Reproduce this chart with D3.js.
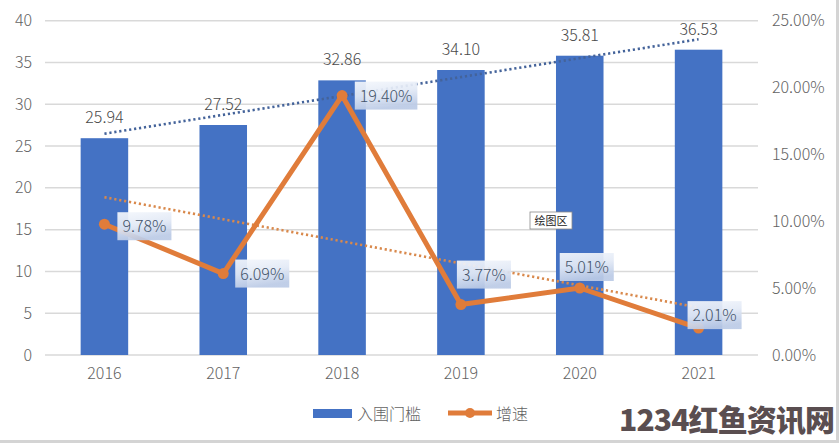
<!DOCTYPE html>
<html><head><meta charset="utf-8">
<script src="https://cdn.jsdelivr.net/npm/d3@7/dist/d3.min.js"></script>
<style>
html,body{margin:0;padding:0;background:#fff;}
text{font-family:"Noto Sans CJK SC","Noto Sans",sans-serif;font-weight:300;}
</style></head>
<body><svg id="c" width="839" height="443"></svg>
<script>
const years = ["2016","2017","2018","2019","2020","2021"];
const threshold = [25.94, 27.52, 32.86, 34.10, 35.81, 36.53];
const growth = [0.0978, 0.0609, 0.1940, 0.0377, 0.0501, 0.0201];
const leftTicks = [0,5,10,15,20,25,30,35,40];
const rightTicks = [0,0.05,0.10,0.15,0.20,0.25];
const seriesNames = ["入围门槛","增速"];
// label box centre offsets from the point (placement only)
const labelOffsets = [[40,2],[39,0],[44,0],[23,-30],[7,-21],[16,-13]];

const svg = d3.select("#c");
svg.append("rect").attr("width",839).attr("height",443).attr("fill","#fff");
const defs = svg.append("defs");
const grad = defs.append("linearGradient").attr("id","lb").attr("x1","0").attr("y1","0").attr("x2","0.3").attr("y2","1");
grad.append("stop").attr("offset","0").attr("stop-color","#f4f7fc");
grad.append("stop").attr("offset","0.5").attr("stop-color","#e3eaf6");
grad.append("stop").attr("offset","1").attr("stop-color","#bccbe6");

const x = d3.scaleBand().domain(years).range([45,758]).paddingInner(0.6).paddingOuter(0.3);
const yL = d3.scaleLinear().domain([0,40]).range([355,20.7]);
const yR = d3.scaleLinear().domain([0,0.25]).range([355,20.7]);
const cx = d => x(d)+x.bandwidth()/2;

// grid
svg.append("g").selectAll("line").data(leftTicks).join("line")
  .attr("x1",45).attr("x2",758).attr("y1",d=>yL(d)).attr("y2",d=>yL(d))
  .attr("stroke","#d9d9d9").attr("stroke-width",1.5);

// left axis
const axL = svg.append("g").attr("transform","translate(45,0)")
  .call(d3.axisLeft(yL).tickValues(leftTicks).tickSize(0).tickPadding(13));
axL.select(".domain").remove();
axL.selectAll("text").attr("font-size",16).attr("fill","#636363");

// right axis
const axR = svg.append("g").attr("transform","translate(758,0)")
  .call(d3.axisRight(yR).tickValues(rightTicks).tickSize(0).tickPadding(14).tickFormat(d3.format(".2%")));
axR.select(".domain").remove();
axR.selectAll("text").attr("font-size",16).attr("fill","#636363");

// x axis
const axX = svg.append("g").attr("transform","translate(0,355)")
  .call(d3.axisBottom(x).tickSize(0).tickPadding(13));
axX.select(".domain").remove();
axX.selectAll("text").attr("font-size",16).attr("fill","#636363");

// bars
svg.append("g").selectAll("rect").data(threshold).join("rect")
  .attr("x",(d,i)=>x(years[i])).attr("width",x.bandwidth())
  .attr("y",d=>yL(d)).attr("height",d=>yL(0)-yL(d)).attr("fill","#4472c4");

// bar labels
svg.append("g").selectAll("text").data(threshold).join("text")
  .attr("x",(d,i)=>cx(years[i])).attr("y",d=>yL(d)-15)
  .attr("text-anchor","middle").attr("font-size",16).attr("fill","#4a4a4a")
  .text(d=>d3.format(".2f")(d));

// linear trendlines (least squares)
function fit(vals){
  const n=vals.length, xs=vals.map((v,i)=>i);
  const mx=d3.mean(xs), my=d3.mean(vals);
  const b=d3.sum(xs.map((xi,i)=>(xi-mx)*(vals[i]-my)))/d3.sum(xs.map(xi=>(xi-mx)**2));
  const a=my-b*mx;
  return [a, a+b*(n-1)];
}
const tB = fit(threshold), tG = fit(growth);
svg.append("line").attr("x1",cx(years[0])).attr("x2",cx(years[5]))
  .attr("y1",yL(tB[0])).attr("y2",yL(tB[1]))
  .attr("stroke","#44639a").attr("stroke-width",2.6).attr("stroke-dasharray","2.2,2.8");
svg.append("line").attr("x1",cx(years[0])).attr("x2",cx(years[5]))
  .attr("y1",yR(tG[0])).attr("y2",yR(tG[1]))
  .attr("stroke","#d9894c").attr("stroke-width",2.6).attr("stroke-dasharray","2.2,2.8");

// growth line
const line = d3.line().x((d,i)=>cx(years[i])).y(d=>yR(d));
svg.append("path").datum(growth).attr("d",line).attr("fill","none")
  .attr("stroke","#e07c3a").attr("stroke-width",5).attr("stroke-linejoin","miter");
svg.append("g").selectAll("circle").data(growth).join("circle")
  .attr("cx",(d,i)=>cx(years[i])).attr("cy",d=>yR(d)).attr("r",5.5).attr("fill","#e07c3a");

// growth labels
const lg = svg.append("g");
growth.forEach((d,i)=>{
  const px=cx(years[i]), py=yR(d);
  const [dx,dy]=labelOffsets[i];
  const g=lg.append("g");
  const r=g.append("rect");
  const t=g.append("text").attr("x",px+dx).attr("y",py+dy+6).attr("text-anchor","middle")
    .attr("font-size",16).attr("fill","#44546a").text(d3.format(".2%")(d));
  const w=t.node().getComputedTextLength()+10;
  r.attr("x",px+dx-w/2).attr("y",py+dy-14).attr("width",w).attr("height",28)
   .attr("fill","url(#lb)").attr("opacity",0.93);
});

// tooltip
svg.append("rect").attr("x",530).attr("y",212).attr("width",42).attr("height",17)
  .attr("fill","#fff").attr("stroke","#8a8a8a").attr("stroke-width",0.8);
svg.append("text").attr("x",551).attr("y",225).attr("text-anchor","middle")
  .attr("font-size",11).attr("fill","#222").style("font-weight",400).text("绘图区");

// legend
svg.append("rect").attr("x",313).attr("y",409).attr("width",39).attr("height",9).attr("fill","#4472c4");
svg.append("text").attr("x",357).attr("y",420).attr("font-size",16).attr("fill","#636363").text(seriesNames[0]);
svg.append("line").attr("x1",448).attr("x2",492).attr("y1",413).attr("y2",413)
  .attr("stroke","#e07c3a").attr("stroke-width",5);
svg.append("circle").attr("cx",470).attr("cy",413).attr("r",5).attr("fill","#e07c3a");
svg.append("text").attr("x",496).attr("y",420).attr("font-size",16).attr("fill","#636363").text(seriesNames[1]);

// watermark
svg.append("text").attr("x",619).attr("y",431).attr("font-size",30).style("font-weight",900)
  .attr("fill","#5a4e50").attr("textLength",216).text("1234红鱼资讯网");

// frame edges
svg.append("rect").attr("x",0).attr("y",440).attr("width",839).attr("height",3).attr("fill","#d4d4d4");
svg.append("rect").attr("x",836).attr("y",0).attr("width",3).attr("height",443).attr("fill","#d4d4d4");
</script></body></html>
